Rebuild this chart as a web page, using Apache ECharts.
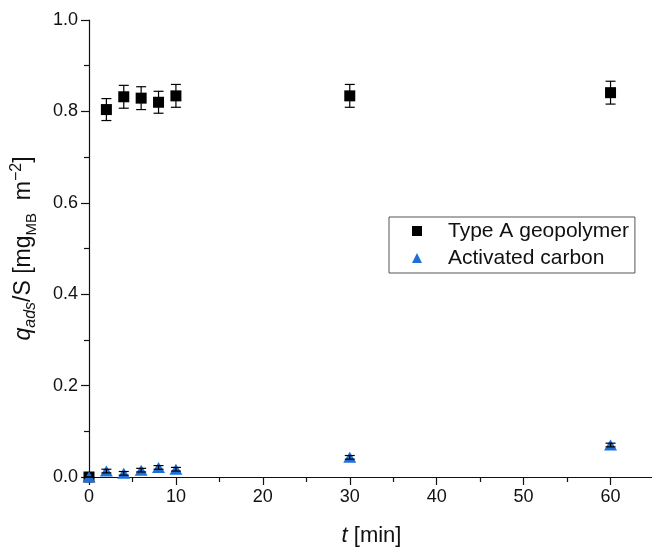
<!DOCTYPE html>
<html>
<head>
<meta charset="utf-8">
<script src="https://cdn.jsdelivr.net/npm/echarts@6/dist/echarts.min.js"></script>
<style>
  html, body { margin: 0; padding: 0; background: #fff; }
  #chart { width: 652px; height: 548px; }
</style>
</head>
<body>
<div id="chart"></div>
<script>
// Contact time [min]
const times = [0, 2, 4, 6, 8, 10, 30, 60];
// Adsorbed methylene blue per surface area [mg_MB m^-2]
const geopolymerValues = [0, 0.804, 0.832, 0.829, 0.820, 0.834, 0.834, 0.841];
const geopolymerErrors = [0, 0.024, 0.025, 0.025, 0.024, 0.025, 0.025, 0.025];
const carbonValues = [0, 0.013, 0.008, 0.015, 0.021, 0.017, 0.043, 0.070];
const carbonErrors = [0, 0.004, 0.004, 0.004, 0.004, 0.004, 0.004, 0.004];
const yTicks = [0, 0.2, 0.4, 0.6, 0.8, 1.0];
const xTicks = [0, 10, 20, 30, 40, 50, 60];

const FONT = 'Liberation Sans, Arial, sans-serif';
const INK = '#111';

function pairs(xs, ys) { return xs.map((x, i) => [x, ys[i]]); }
function errRows(xs, ys, es) { return xs.map((x, i) => [x, ys[i] - es[i], ys[i] + es[i]]); }

// Vertical error bar with horizontal caps
function errorBar(capHalf) {
  return function (params, api) {
    const lo = api.coord([api.value(0), api.value(1)]);
    const hi = api.coord([api.value(0), api.value(2)]);
    const x = lo[0];
    const style = { stroke: '#000', lineWidth: 1.2 };
    return {
      type: 'group',
      children: [
        { type: 'line', shape: { x1: x, y1: lo[1], x2: x, y2: hi[1] }, style },
        { type: 'line', shape: { x1: x - capHalf, y1: lo[1], x2: x + capHalf, y2: lo[1] }, style },
        { type: 'line', shape: { x1: x - capHalf, y1: hi[1], x2: x + capHalf, y2: hi[1] }, style }
      ]
    };
  };
}

const chart = echarts.init(document.getElementById('chart'), null, { renderer: 'canvas' });

chart.setOption({
  animation: false,
  backgroundColor: '#fff',
  textStyle: { fontFamily: FONT },
  grid: { left: 89, top: 20, width: 565, height: 457, containLabel: false, outerBoundsMode: 'none' },
  legend: {
    orient: 'vertical',
    left: 389,
    top: 217,
    padding: [3, 6, 4, 23],
    itemGap: 5,
    itemWidth: 10,
    itemHeight: 10,
    borderColor: '#555',
    borderWidth: 1,
    borderRadius: 0,
    data: [
      { name: 'Type A geopolymer', icon: 'rect' },
      { name: 'Activated carbon', icon: 'triangle' }
    ],
    textStyle: { fontFamily: FONT, fontSize: 21, lineHeight: 22, color: INK, padding: [0, 0, 0, 21] }
  },
  xAxis: {
    type: 'value',
    min: 0,
    max: 65,
    interval: 10,
    name: '{i|t} [min]',
    nameLocation: 'middle',
    nameGap: 48,
    nameTextStyle: {
      fontFamily: FONT, fontSize: 22, color: INK,
      rich: { i: { fontFamily: FONT, fontSize: 22, fontStyle: 'italic', color: INK } }
    },
    axisLine: { lineStyle: { color: INK, width: 1.2 } },
    axisTick: { length: 8, lineStyle: { color: INK, width: 1.2 } },
    minorTick: { show: true, splitNumber: 2, length: 5, lineStyle: { color: INK, width: 1.2 } },
    axisLabel: {
      fontFamily: FONT, fontSize: 18, color: INK, margin: 11,
      formatter: v => (xTicks.includes(v) ? String(v) : '')
    },
    splitLine: { show: false }
  },
  yAxis: {
    type: 'value',
    min: 0,
    max: 1,
    interval: 0.2,
    name: '{q|q}{sub|ads}{n|/S [mg}{sub2|MB}{n|  m}{sup|−2}{n|]}',
    nameLocation: 'middle',
    nameRotate: 90,
    nameGap: 50,
    nameTextStyle: {
      fontFamily: FONT, fontSize: 23, color: INK,
      rich: {
        q: { fontFamily: FONT, fontSize: 23, fontStyle: 'italic', color: INK, lineHeight: 30, verticalAlign: 'middle' },
        n: { fontFamily: FONT, fontSize: 23, color: INK, lineHeight: 30, verticalAlign: 'middle' },
        sub: { fontFamily: FONT, fontSize: 16, fontStyle: 'italic', color: INK, lineHeight: 15, verticalAlign: 'bottom' },
        sub2: { fontFamily: FONT, fontSize: 15, color: INK, lineHeight: 15, verticalAlign: 'bottom' },
        sup: { fontFamily: FONT, fontSize: 16, color: INK, lineHeight: 15, verticalAlign: 'top' }
      }
    },
    axisLine: { show: true, lineStyle: { color: INK, width: 1.2 } },
    axisTick: { show: true, length: 8, lineStyle: { color: INK, width: 1.2 } },
    minorTick: { show: true, splitNumber: 2, length: 5, lineStyle: { color: INK, width: 1.2 } },
    axisLabel: {
      fontFamily: FONT, fontSize: 18, color: INK, margin: 11,
      formatter: v => (yTicks.some(t => Math.abs(t - v) < 1e-9) ? v.toFixed(1) : '')
    },
    splitLine: { show: false }
  },
  series: [
    {
      name: 'Type A geopolymer',
      type: 'scatter',
      symbol: 'rect',
      symbolSize: 11,
      itemStyle: { color: '#000', opacity: 1 },
      data: pairs(times, geopolymerValues),
      z: 2
    },
    {
      name: 'geopolymer error',
      type: 'custom',
      renderItem: errorBar(5),
      data: errRows(times, geopolymerValues, geopolymerErrors),
      encode: { x: 0, y: [1, 2] },
      z: 3,
      silent: true
    },
    {
      name: 'Activated carbon',
      type: 'scatter',
      symbol: 'triangle',
      symbolSize: [13, 11],
      itemStyle: { color: '#1f6fd8', opacity: 1 },
      data: pairs(times, carbonValues),
      z: 4
    },
    {
      name: 'carbon error',
      type: 'custom',
      renderItem: errorBar(5),
      data: errRows(times, carbonValues, carbonErrors),
      encode: { x: 0, y: [1, 2] },
      z: 5,
      silent: true
    }
  ]
});
</script>
</body>
</html>
